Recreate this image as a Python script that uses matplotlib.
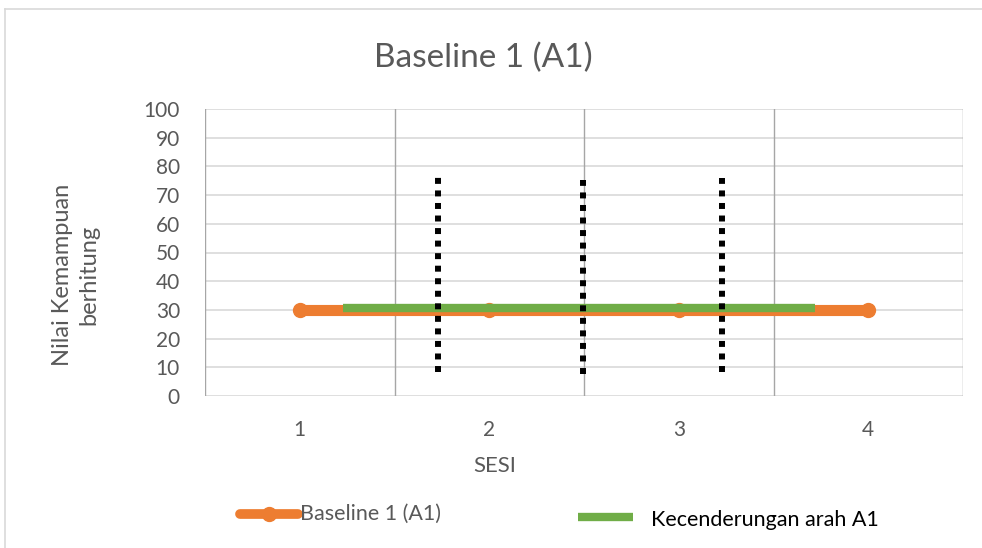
import numpy as np
import matplotlib.pyplot as plt
from matplotlib.lines import Line2D

# Data
sesi = [1, 2, 3, 4]
nilai_a1 = [30, 30, 30, 30]
tren_x = [1.227, 3.718]
tren_y = [30.6, 30.6]
# dotted dividers: (x, bottom, top)
garis_titik_x = [1.728, 2.493, 3.227]
garis_titik_bawah = [8.5, 7.7, 8.4]
garis_titik_atas = [76.4, 75.3, 76.0]
y_ticks = list(range(0, 101, 10))

plt.rcParams['font.family'] = ['Lato', 'DejaVu Sans']
gray_txt = '#595959'

fig = plt.figure(figsize=(9.82, 5.48), dpi=100)
ax = fig.add_axes([205/982, 1 - 396/548, (963-205)/982, (396-109)/548])

# outer chart border
fig.add_artist(Line2D([5/982, 5/982], [0, 1 - 9/548], color='#d9d9d9', lw=1.2))
fig.add_artist(Line2D([5/982, 1], [1 - 9/548, 1 - 9/548], color='#d9d9d9', lw=1.2))

ax.set_xlim(0.5, 4.5)
ax.set_ylim(0, 100)
ax.set_yticks(y_ticks)
ax.set_xticks(sesi)
ax.tick_params(length=0, labelsize=15, labelcolor=gray_txt, pad=18)
ax.tick_params(axis='x', pad=17)
for s in ax.spines.values():
    s.set_visible(False)

for y in y_ticks:
    ax.axhline(y, color='#d9d9d9', lw=1.2, zorder=0)
for xb in np.arange(0.5, 4.6, 1.0):
    ax.axvline(xb, color='#a6a6a6', lw=1.0, zorder=0)

ax.plot(sesi, nilai_a1, color='#ED7D31', lw=8, marker='o', markersize=10,
        solid_capstyle='butt', zorder=2)
ax.plot(tren_x, tren_y, color='#70AD47', lw=6, solid_capstyle='butt', zorder=3)

for x, b, t in zip(garis_titik_x, garis_titik_bawah, garis_titik_atas):
    ax.plot([x, x], [b, t], color='black', lw=4.3, linestyle=(0, (1, 1.1)),
            dash_capstyle='butt', zorder=4)

fig.text(483/982, 1 - 58/548, 'Baseline 1 (A1)', ha='center', va='center',
         fontsize=24, color=gray_txt)
fig.text(76/982, 1 - 275/548, 'Nilai Kemampuan\nberhitung', rotation=90,
         ha='center', va='center', fontsize=17, color=gray_txt, linespacing=1.3)
fig.text(495/982, 1 - 466/548, 'SESI', ha='center', va='center',
         fontsize=16, color=gray_txt)

# legend
fig.add_artist(Line2D([240/982, 298/982], [1 - 514/548, 1 - 514/548],
                      color='#ED7D31', lw=7, solid_capstyle='round'))
fig.add_artist(Line2D([269/982], [1 - 514/548], color='#ED7D31', marker='o',
                      markersize=10))
fig.text(300/982, 1 - 514/548, 'Baseline 1 (A1)', ha='left', va='center',
         fontsize=15.5, color=gray_txt)
fig.add_artist(Line2D([578/982, 633/982], [1 - 517/548, 1 - 517/548],
                      color='#70AD47', lw=6, solid_capstyle='butt'))
fig.text(651/982, 1 - 520/548, 'Kecenderungan arah A1', ha='left', va='center',
         fontsize=15.5, color='black')

fig.savefig('out.png', dpi=100)
